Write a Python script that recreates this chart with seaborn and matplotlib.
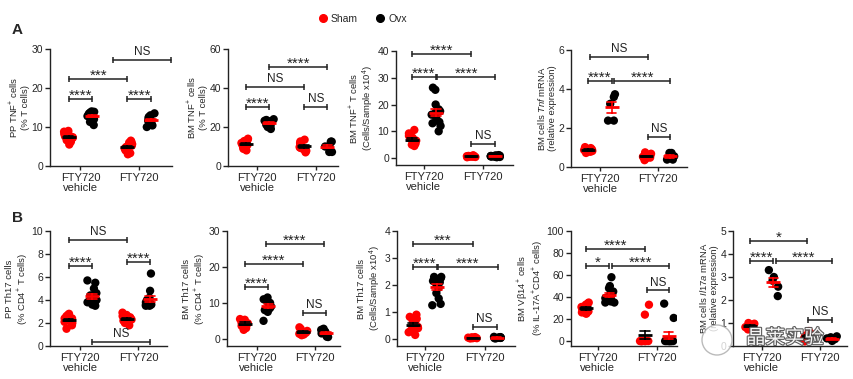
import numpy as np
import pandas as pd
import matplotlib
matplotlib.use('Agg')
import matplotlib.pyplot as plt
import matplotlib.patheffects as pe
from matplotlib.lines import Line2D
from matplotlib.patches import Ellipse
import seaborn as sns

# ---- values ----
treatments = ['vehicle', 'FTY720']
groups = ['Sham', 'Ovx']
xtick_labels = ['FTY720\nvehicle', 'FTY720']

# A: PP TNF+ cells (% T cells)
pp_tnf_sham_veh = [5.5, 6.2, 6.6, 7.0, 7.2, 7.4, 7.6, 7.9, 8.2, 8.5, 8.8, 9.0]
pp_tnf_ovx_veh = [10.5, 11.3, 12.0, 12.5, 12.8, 13.0, 13.2, 13.5, 13.7, 13.9, 14.0, 13.4]
pp_tnf_sham_fty = [3.0, 3.3, 4.0, 4.5, 4.9, 5.2, 5.6, 6.0, 6.2, 6.5, 4.8]
pp_tnf_ovx_fty = [10.0, 10.4, 10.9, 11.3, 11.6, 11.8, 12.0, 12.3, 12.6, 13.0, 13.5]

# A: BM TNF+ cells (% T cells)
bm_tnf_sham_veh = [8.0, 8.8, 9.5, 10.0, 10.5, 11.0, 11.3, 11.8, 12.2, 12.8, 13.5, 14.0, 10.8]
bm_tnf_ovx_veh = [19.0, 20.0, 20.8, 21.5, 22.0, 22.3, 22.7, 23.2, 23.6, 24.0, 21.2, 23.0]
bm_tnf_sham_fty = [7.0, 7.8, 8.5, 9.0, 9.5, 10.0, 10.4, 11.0, 11.8, 12.6, 13.5, 9.2]
bm_tnf_ovx_fty = [7.2, 7.2, 10.0, 10.0, 10.0, 12.5, 12.5]

# A: BM TNF+ T cells (cells/sample x10^4)
bm_tnf_cells_sham_veh = [4.5, 5.0, 5.4, 5.8, 6.2, 6.5, 6.8, 7.2, 7.6, 8.3, 9.2, 10.5]
bm_tnf_cells_ovx_veh = [10.0, 12.0, 13.5, 15.0, 16.2, 17.0, 17.5, 18.2, 20.0, 25.5, 26.3, 13.0]
bm_tnf_cells_sham_fty = [0.3, 0.4, 0.5, 0.6, 0.7, 0.7, 0.8, 0.9, 1.0, 0.6, 0.5]
bm_tnf_cells_ovx_fty = [0.3, 0.4, 0.5, 0.6, 0.7, 0.8, 0.9, 1.0, 1.1, 0.6]

# A: BM cells Tnf mRNA
bm_tnf_mrna_sham_veh = [0.72, 0.78, 0.82, 0.85, 0.87, 0.9, 0.93, 0.97, 1.02, 0.86]
bm_tnf_mrna_ovx_veh = [3.73, 3.59, 3.24, 2.38, 2.38]
bm_tnf_mrna_sham_fty = [0.35, 0.42, 0.48, 0.53, 0.57, 0.62, 0.68, 0.75, 0.5]
bm_tnf_mrna_ovx_fty = [0.38, 0.38, 0.55, 0.72, 0.72]

# B: PP Th17 cells (% CD4+ T cells)
pp_th17_sham_veh = [1.5, 1.8, 2.0, 2.1, 2.2, 2.3, 2.4, 2.5, 2.6, 2.7, 2.8, 2.4]
pp_th17_ovx_veh = [3.5, 3.6, 3.7, 3.9, 4.0, 4.2, 4.4, 4.6, 5.0, 5.5, 5.7, 3.8]
pp_th17_sham_fty = [1.8, 2.0, 2.1, 2.2, 2.3, 2.4, 2.5, 2.6, 2.7, 2.9, 2.4]
pp_th17_ovx_fty = [3.5, 3.5, 3.6, 3.7, 3.8, 4.0, 4.2, 4.8, 6.3, 3.6]

# B: BM Th17 cells (% CD4+ T cells)
bm_th17_sham_veh = [2.5, 3.0, 3.6, 4.0, 4.3, 4.5, 4.8, 5.0, 5.3, 5.5]
bm_th17_ovx_veh = [5.0, 7.5, 8.0, 8.5, 9.0, 9.5, 10.0, 10.5, 11.0, 11.5]
bm_th17_sham_fty = [1.0, 1.2, 1.4, 1.5, 1.7, 1.8, 2.0, 2.2, 2.8, 3.2]
bm_th17_ovx_fty = [0.5, 0.6, 1.0, 1.5, 2.0, 2.5, 2.8]

# B: BM Th17 cells (cells/sample x10^4)
bm_th17_cells_sham_veh = [0.15, 0.25, 0.32, 0.4, 0.45, 0.5, 0.55, 0.6, 0.68, 0.75, 0.82, 0.9]
bm_th17_cells_ovx_veh = [1.25, 1.3, 1.5, 1.7, 1.9, 2.0, 2.1, 2.15, 2.2, 2.25, 2.3, 2.3]
bm_th17_cells_sham_fty = [0.02, 0.03, 0.04, 0.05, 0.05, 0.06, 0.07, 0.04, 0.03]
bm_th17_cells_ovx_fty = [0.02, 0.03, 0.04, 0.05, 0.06, 0.07, 0.08, 0.05, 0.04]

# B: BM Vb14+ cells (% IL-17A+CD4+ cells)
bm_vb14_sham_veh = [25, 25, 26, 27, 28, 30, 30, 31, 32, 33, 34, 35]
bm_vb14_ovx_veh = [35, 35, 36, 37, 38, 40, 42, 45, 48, 50, 58, 39]
bm_vb14_sham_fty = [0, 0, 0, 0, 0, 0, 0, 0, 0, 24, 33]
bm_vb14_ovx_fty = [0, 0, 0, 0, 0, 0, 0, 0, 0, 21, 34]

# B: BM cells Il17a mRNA
bm_il17a_sham_veh = [0.72, 0.78, 0.82, 0.85, 0.88, 0.9, 0.93, 0.97, 1.0, 0.85]
bm_il17a_ovx_veh = [3.3, 3.0, 2.84, 2.58, 2.17]
bm_il17a_sham_fty = [0.2, 0.3, 0.38, 0.45, 0.55, 0.65]
bm_il17a_ovx_fty = [0.22, 0.28, 0.33, 0.38, 0.42, 0.3]

# group centres after dodge: sham veh, ovx veh, sham fty, ovx fty
g0, g1, g2, g3 = -0.2, 0.2, 0.8, 1.2

panels = [
    dict(ylabel='PP TNF$^{+}$ cells\n(% T cells)',
         data=(pp_tnf_sham_veh, pp_tnf_ovx_veh, pp_tnf_sham_fty, pp_tnf_ovx_fty),
         rect=(50, 49, 172, 166), xlim=(-0.52, 1.56), ylim=(0, 30), yticks=[0, 10, 20, 30],
         sig=[(g0, g1, 17.2, '****'), (g2, g3, 17.2, '****'), (g0, g2, 22.3, '***'), (0.55, 1.54, 27.2, 'NS')]),
    dict(ylabel='BM TNF$^{+}$ cells\n(% T cells)',
         data=(bm_tnf_sham_veh, bm_tnf_ovx_veh, bm_tnf_sham_fty, bm_tnf_ovx_fty),
         rect=(228, 49, 338, 166), xlim=(-0.5, 1.38), ylim=(0, 60), yticks=[0, 20, 40, 60],
         sig=[(g0, g1, 30.4, '****'), (g2, g3, 30.4, 'NS'), (g0, g2, 40.7, 'NS'), (g1, g3, 50.6, '****')]),
    dict(ylabel='BM TNF$^{+}$ T cells\n(Cells/Sample x10$^{4}$)',
         data=(bm_tnf_cells_sham_veh, bm_tnf_cells_ovx_veh, bm_tnf_cells_sham_fty, bm_tnf_cells_ovx_fty),
         rect=(396, 51, 513, 165), xlim=(-0.47, 1.5), ylim=(-2.6, 40), yticks=[0, 10, 20, 30, 40],
         sig=[(g0, g1, 30.4, '****'), (0.22, g3, 30.4, '****'), (g0, g2, 38.9, '****'), (g2, g3, 5.2, 'NS')]),
    dict(ylabel='BM cells $\\mathit{Tnf}$ mRNA\n(relative expression)',
         data=(bm_tnf_mrna_sham_veh, bm_tnf_mrna_ovx_veh, bm_tnf_mrna_sham_fty, bm_tnf_mrna_ovx_fty),
         rect=(571, 50, 687, 167), xlim=(-0.5, 1.5), ylim=(0, 6), yticks=[0, 2, 4, 6],
         sig=[(g0, g1, 4.41, '****'), (0.25, g3, 4.41, '****'), (-0.17, 0.83, 5.66, 'NS'), (0.83, g3, 1.52, 'NS')]),
    dict(ylabel='PP Th17 cells\n(% CD4$^{+}$ T cells)',
         data=(pp_th17_sham_veh, pp_th17_ovx_veh, pp_th17_sham_fty, pp_th17_ovx_fty),
         rect=(50, 231, 167, 346), xlim=(-0.52, 1.49), ylim=(0, 10), yticks=[0, 2, 4, 6, 8, 10],
         sig=[(g0, g1, 6.96, '****'), (g2, g3, 7.33, '****'), (g0, g2, 9.2, 'NS'), (g1, g3, 0.37, 'NS')]),
    dict(ylabel='BM Th17 cells\n(% CD4$^{+}$ T cells)',
         data=(bm_th17_sham_veh, bm_th17_ovx_veh, bm_th17_sham_fty, bm_th17_ovx_fty),
         rect=(227, 231, 340, 346), xlim=(-0.51, 1.44), ylim=(-2, 30), yticks=[0, 10, 20, 30],
         sig=[(g0, g1, 14.5, '****'), (g2, g3, 7.3, 'NS'), (g0, g2, 20.8, '****'), (0.16, 1.16, 26.4, '****')]),
    dict(ylabel='BM Th17 cells\n(Cells/Sample x10$^{4}$)',
         data=(bm_th17_cells_sham_veh, bm_th17_cells_ovx_veh, bm_th17_cells_sham_fty, bm_th17_cells_ovx_fty),
         rect=(397, 231, 515, 346), xlim=(-0.47, 1.51), ylim=(-0.26, 4), yticks=[0, 1, 2, 3, 4],
         sig=[(g0, g1, 2.68, '****'), (0.22, 1.22, 2.68, '****'), (g0, g2, 3.52, '***'), (g2, g3, 0.46, 'NS')]),
    dict(ylabel='BM V\u03b214$^{+}$ cells\n(% IL-17A$^{+}$CD4$^{+}$ cells)',
         data=(bm_vb14_sham_veh, bm_vb14_ovx_veh, bm_vb14_sham_fty, bm_vb14_ovx_fty),
         rect=(571, 231, 677, 346), xlim=(-0.45, 1.34), ylim=(-4.5, 100), yticks=[0, 20, 40, 60, 80, 100],
         sig=[(g0, g1, 68, '*'), (0.25, g3, 68, '****'), (g0, g2, 84, '****'), (0.83, g3, 46, 'NS')]),
    dict(ylabel='BM cells $\\mathit{Il17a}$ mRNA\n(relative expression)',
         data=(bm_il17a_sham_veh, bm_il17a_ovx_veh, bm_il17a_sham_fty, bm_il17a_ovx_fty),
         rect=(733, 231, 847, 346), xlim=(-0.49, 1.46), ylim=(0, 5), yticks=[0, 1, 2, 3, 4, 5],
         sig=[(g0, g1, 3.71, '****'), (0.25, g3, 3.71, '****'), (g0, 0.78, 4.57, '*'), (g2, g3, 1.13, 'NS')]),
]

point_colors = {'Sham': '#ff0000', 'Ovx': '#000000'}
mean_colors = {'Sham': '#000000', 'Ovx': '#ff0000'}


def long_df(sham_veh, ovx_veh, sham_fty, ovx_fty):
    rows = []
    for tr, grp, vals in [('vehicle', 'Sham', sham_veh), ('vehicle', 'Ovx', ovx_veh),
                          ('FTY720', 'Sham', sham_fty), ('FTY720', 'Ovx', ovx_fty)]:
        for v in vals:
            rows.append((tr, grp, v))
    return pd.DataFrame(rows, columns=['treatment', 'group', 'value'])


sns.set_theme(style='ticks')
plt.rcParams['font.family'] = ['Liberation Sans', 'DejaVu Sans']
plt.rcParams['mathtext.fontset'] = 'custom'
plt.rcParams['mathtext.rm'] = 'Liberation Sans'
plt.rcParams['mathtext.it'] = 'Liberation Sans:italic'

np.random.seed(3)  # fixed jitter of the dots

W, H = 854, 379
fig = plt.figure(figsize=(W / 100, H / 100), dpi=100)
ink = '#222222'

for p in panels:
    l, t, r, b = p['rect']
    ax = fig.add_axes([l / W, 1 - b / H, (r - l) / W, (b - t) / H])
    df = long_df(*p['data'])
    sns.stripplot(data=df, x='treatment', y='value', hue='group', order=treatments, hue_order=groups,
                  palette=point_colors, dodge=True, jitter=0.17, size=6, linewidth=0, legend=False,
                  zorder=1, ax=ax)
    sns.pointplot(data=df, x='treatment', y='value', hue='group', order=treatments, hue_order=groups,
                  palette=mean_colors, dodge=0.4, errorbar='se', capsize=0.16, markers='_',
                  linestyles='none', markersize=10, markeredgewidth=2.0,
                  err_kws={'linewidth': 1.2}, legend=False, ax=ax)
    ax.set_xlim(p['xlim'])
    ax.set_ylim(p['ylim'])
    ax.set_yticks(p['yticks'])
    ax.set_xticks([0, 1])
    ax.set_xticklabels(xtick_labels, fontsize=8, linespacing=1.05)
    ax.set_xlabel('')
    ax.set_ylabel(p['ylabel'], fontsize=6.8, linespacing=1.1, labelpad=1)
    ax.tick_params(axis='y', length=3.5, width=1, labelsize=7.5, pad=1.5, color=ink)
    ax.tick_params(axis='x', length=3, width=1, pad=2, color=ink)
    for side in ['top', 'right']:
        ax.spines[side].set_visible(False)
    for side in ['left', 'bottom']:
        ax.spines[side].set_linewidth(1.0)
        ax.spines[side].set_color(ink)
    ax.set_facecolor('white')

    # significance brackets
    for x1, x2, y, lab in p['sig']:
        ax.plot([x1, x2], [y, y], color=ink, lw=1.1, marker='|', markersize=4.5,
                markeredgewidth=1.1, clip_on=False, zorder=5)
        if lab == 'NS':
            ax.annotate(lab, xy=((x1 + x2) / 2, y), xytext=(0, 3.5), textcoords='offset points',
                        ha='center', va='baseline', fontsize=8.5, color=ink, annotation_clip=False)
        else:
            ax.annotate(lab, xy=((x1 + x2) / 2, y), xytext=(0, -0.5), textcoords='offset points',
                        ha='center', va='baseline', fontsize=11, color=ink, annotation_clip=False)

# legend on top
handles = [Line2D([], [], marker='o', ls='none', color=point_colors[g], markersize=5.5) for g in groups]
fig.legend(handles, groups, loc='center', bbox_to_anchor=(362 / W, 1 - 19 / H), ncol=2, frameon=False,
           fontsize=7.5, handletextpad=0.3, columnspacing=1.6, handlelength=1.0)

# panel letters
fig.text(12 / W, 1 - 30 / H, 'A', fontsize=11, fontweight='bold', va='center', ha='left')
fig.text(12 / W, 1 - 218 / H, 'B', fontsize=11, fontweight='bold', va='center', ha='left')

# watermark (logo ring + text)
fig.patches.append(Ellipse((717 / W, 1 - 340 / H), 30 / W, 30 / H, transform=fig.transFigure,
                           facecolor='white', edgecolor='#aaaaaa', lw=1.0, alpha=0.8, zorder=10))
fig.text(785 / W, 1 - 338 / H, '晶莱实验', fontsize=14, family=['Noto Sans CJK SC', 'DejaVu Sans'],
         color='white', ha='center', va='center', alpha=0.95, zorder=11,
         path_effects=[pe.withStroke(linewidth=1.6, foreground='#555555')])

fig.savefig('out.png', dpi=100, facecolor='white')
